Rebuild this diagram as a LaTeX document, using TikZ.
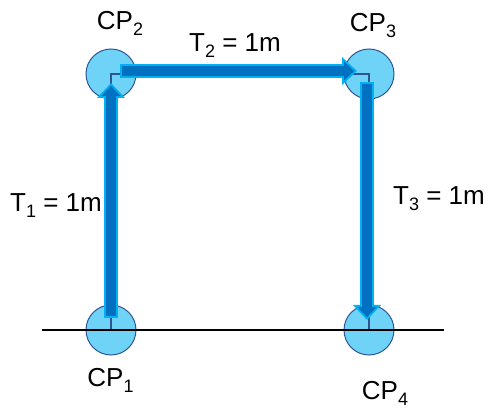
\documentclass[tikz,border=0pt]{standalone}
\usepackage{fontspec}
\setmainfont{Liberation Sans}
\usetikzlibrary{calc}
\usetikzlibrary{arrows.meta}

\definecolor{cpfill}{RGB}{110,211,246}
\definecolor{cpline}{RGB}{47,85,151}
\definecolor{tcore}{RGB}{0,112,192}
\definecolor{trim}{RGB}{0,176,240}

\newcommand{\csub}[1]{\raisebox{-6pt}{\fontsize{18}{18}\selectfont #1}}

\tikzset{
    cp/.style={circle, minimum size=50pt, inner sep=0pt, fill=cpfill, draw=cpline, line width=1pt},
    lbl/.style={anchor=base, inner sep=0pt, font=\fontsize{26}{30}\selectfont},
    arrowrim/.style={draw=trim, line width=14pt, -{Triangle[length=15pt,width=28pt,line width=0pt]}},
    arrowcore/.style={draw=tcore, line width=10pt, shorten <=2pt, shorten >=2.9pt, -{Triangle[length=10pt,width=19pt,line width=0pt]}}
}

\begin{document}
\begin{tikzpicture}[x=1pt,y=1pt]
    \useasboundingbox (0,0) rectangle (491,410);
    \node[cp] (cp1) at (111,80) {};
    \node[cp] (cp2) at (111,336) {};
    \node[cp] (cp3) at (369,336) {};
    \node[cp] (cp4) at (369,80) {};
    \draw[cpline, line width=1.5pt] (cp1.center) -- (cp2.center) -- (cp3.center) -- (cp4.center);
    \coordinate (gl) at (42,80);
    \coordinate (gr) at (444,80);
    \draw[line width=1.2pt] (gl) -- (gr);
    % moves between the control points
    \coordinate (t1s) at ($(cp1)+(0,12)$);
    \coordinate (t1e) at ($(cp2)+(0,-9)$);
    \coordinate (t2s) at ($(cp2)+(9,3)$);
    \coordinate (t2e) at ($(cp3)+(-12,3)$);
    \coordinate (t3s) at ($(cp3)+(-2,-8)$);
    \coordinate (t3e) at ($(cp4)+(-2,10)$);
    \foreach \s/\e in {t1s/t1e, t2s/t2e, t3s/t3e} {
        \draw[arrowrim] (\s) -- (\e);
        \draw[arrowcore] (\s) -- (\e);
    }
    \node[lbl] (lcp1) at (110.5,23) {CP\csub{1}};
    \node[lbl] (lcp2) at (120,380) {CP\csub{2}};
    \node[lbl] (lcp3) at (373,378) {CP\csub{3}};
    \node[lbl] (lcp4) at (385,10) {CP\csub{4}};
    \node[lbl] (lt1) at (56,198) {T\csub{1} = 1m};
    \node[lbl] (lt2) at (235,358) {T\csub{2} = 1m};
    \node[lbl] (lt3) at (439,205) {T\csub{3} = 1m};
\end{tikzpicture}
\end{document}
